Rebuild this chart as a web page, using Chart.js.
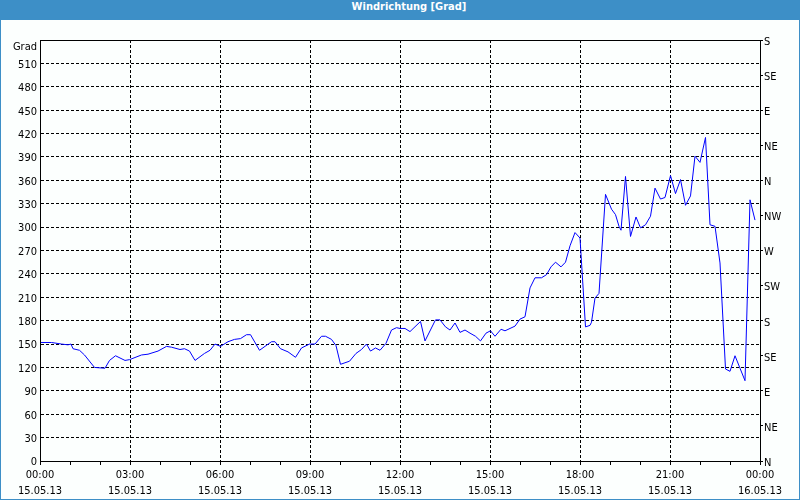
<!DOCTYPE html>
<html>
<head>
<meta charset="utf-8">
<script src="https://cdn.jsdelivr.net/npm/chart.js@4/dist/chart.umd.min.js"></script>
<style>
  html, body { margin: 0; padding: 0; }
  body { width: 800px; height: 500px; background: #3d8fc7; position: relative; overflow: hidden; }
  #title { position: absolute; left: 0; top: 0; width: 800px; height: 20px; line-height: 20px;
           text-align: center; color: #ffffff; font: bold 11px "DejaVu Sans Condensed", "Liberation Sans", sans-serif;
           padding-left: 18px; box-sizing: border-box; }
  #panel { position: absolute; left: 1px; top: 20px; width: 798px; height: 479px; background: #fcfffe; }
  canvas { display: block; }
</style>
</head>
<body>
<div id="title">Windrichtung [Grad]</div>
<div id="panel"><canvas id="c" width="798" height="479"></canvas></div>
<script>
// time of each sample in minutes after 00:00 on 15.05.13
const times = [0,23,43,56,62,66,79,89,109,130,139,151,170,179,203,216,236,253,263,280,289,299,310,329,340,350,361,376,389,401,413,421,439,463,470,481,496,511,523,539,550,563,571,583,592,601,619,632,643,653,661,671,680,692,703,713,720,730,740,761,770,791,800,811,820,830,840,850,860,871,881,892,901,910,922,930,940,950,960,970,980,990,1003,1013,1022,1031,1042,1051,1060,1070,1080,1091,1100,1103,1110,1118,1131,1143,1151,1158,1162,1171,1181,1192,1201,1211,1221,1230,1241,1250,1261,1271,1281,1291,1301,1310,1320,1331,1340,1350,1360,1371,1380,1390,1400,1410,1420,1430];
// wind direction in degrees
const values = [152,152,150,149,150,144,142,136,120,119,129,135,129,130,136,137,141,147,146,143,144,141,129,138,142,150,147,153,156,157,162,162,142,153,153,144,140,133,145,150,150,160,160,156,148,124,128,138,143,150,141,145,142,151,168,171,170,170,166,179,154,181,181,172,168,177,165,168,164,160,154,164,167,160,169,167,170,173,182,185,222,235,235,239,249,255,249,255,276,293,286,172,174,178,209,215,342,323,316,301,296,365,288,313,299,303,314,350,336,338,366,343,361,328,340,391,383,415,303,301,254,118,115,135,119,103,335,309];
// tick labels
const xTickLabels = {0:["00:00","15.05.13"],180:["03:00","15.05.13"],360:["06:00","15.05.13"],540:["09:00","15.05.13"],720:["12:00","15.05.13"],900:["15:00","15.05.13"],1080:["18:00","15.05.13"],1260:["21:00","15.05.13"],1440:["00:00","16.05.13"]};
const compassLabels = ["N","NE","E","SE","S","SW","W","NW","N","NE","E","SE","S"];
const yUnitLabel = "Grad";

const FONT = "'DejaVu Sans Condensed', 'Liberation Sans', sans-serif";
const points = times.map((t, i) => ({x: t, y: values[i]}));

const framePlugin = {
  id: 'frame',
  afterDraw(chart) {
    const {ctx, chartArea: a} = chart;
    ctx.save();
    ctx.strokeStyle = '#000';
    ctx.lineWidth = 1;
    ctx.setLineDash([]);
    ctx.strokeRect(Math.round(a.left) + 0.5, Math.round(a.top) + 0.5, Math.round(a.right - a.left), Math.round(a.bottom - a.top));
    ctx.fillStyle = '#000';
    ctx.font = "11px " + FONT;
    ctx.textAlign = 'right';
    ctx.textBaseline = 'middle';
    ctx.fillText(yUnitLabel, a.left - 3, a.top + 7);
    ctx.restore();
  }
};

new Chart(document.getElementById('c'), {
  type: 'line',
  data: { datasets: [{ data: points, borderColor: '#0000ff', borderWidth: 1, pointRadius: 0, tension: 0, fill: false, yAxisID: 'y' }] },
  options: {
    animation: false, responsive: false, maintainAspectRatio: false,
    layout: { padding: { top: 20, left: 0, right: 0, bottom: 0 } },
    plugins: { legend: { display: false }, tooltip: { enabled: false }, title: { display: false } },
    scales: {
      x: {
        type: 'linear', min: 0, max: 1440,
        afterFit(s) { s.height = 38; },
        afterBuildTicks(s) { s.ticks = []; for (let v = 0; v <= 1440; v += 60) s.ticks.push({value: v}); },
        ticks: {
          autoSkip: false, maxRotation: 0, padding: 2, color: '#000',
          font: { family: FONT, size: 11, lineHeight: 1.45 },
          callback: (v) => xTickLabels[v] || ''
        },
        grid: {
          color: (c) => (c.tick && c.tick.value % 180 === 0 && c.tick.value > 0 && c.tick.value < 1440) ? '#000' : 'rgba(0,0,0,0)',
          tickColor: '#000', tickLength: 4, lineWidth: 1, tickBorderDash: []
        },
        border: { display: true, color: '#000', dash: [3, 2] }
      },
      y: {
        type: 'linear', position: 'left', min: 0, max: 540,
        afterFit(s) { s.width = 39; },
        afterBuildTicks(s) { s.ticks = []; for (let v = 0; v <= 540; v += 30) s.ticks.push({value: v}); },
        ticks: { padding: 3, color: '#000', font: { family: FONT, size: 11, lineHeight: '3px' },
                 callback: (v) => v === 540 ? '' : ['', String(v)] },
        grid: {
          color: (c) => (c.tick && c.tick.value > 0 && c.tick.value < 540) ? '#000' : 'rgba(0,0,0,0)',
          drawTicks: false, lineWidth: 1
        },
        border: { display: true, color: '#000', dash: [3, 2] }
      },
      y2: {
        type: 'linear', position: 'right', min: 0, max: 540,
        afterFit(s) { s.width = 39; },
        afterBuildTicks(s) { s.ticks = []; for (let v = 0; v <= 540; v += 45) s.ticks.push({value: v}); },
        ticks: { padding: 1, color: '#000', font: { family: FONT, size: 11, lineHeight: '4px' },
                 callback: (v) => ['', compassLabels[Math.round(v / 45)]] },
        grid: { drawOnChartArea: false, drawTicks: true, tickLength: 3, tickColor: '#000', color: '#000' },
        border: { display: true, color: '#000' }
      }
    }
  },
  plugins: [framePlugin]
});
</script>
</body>
</html>
